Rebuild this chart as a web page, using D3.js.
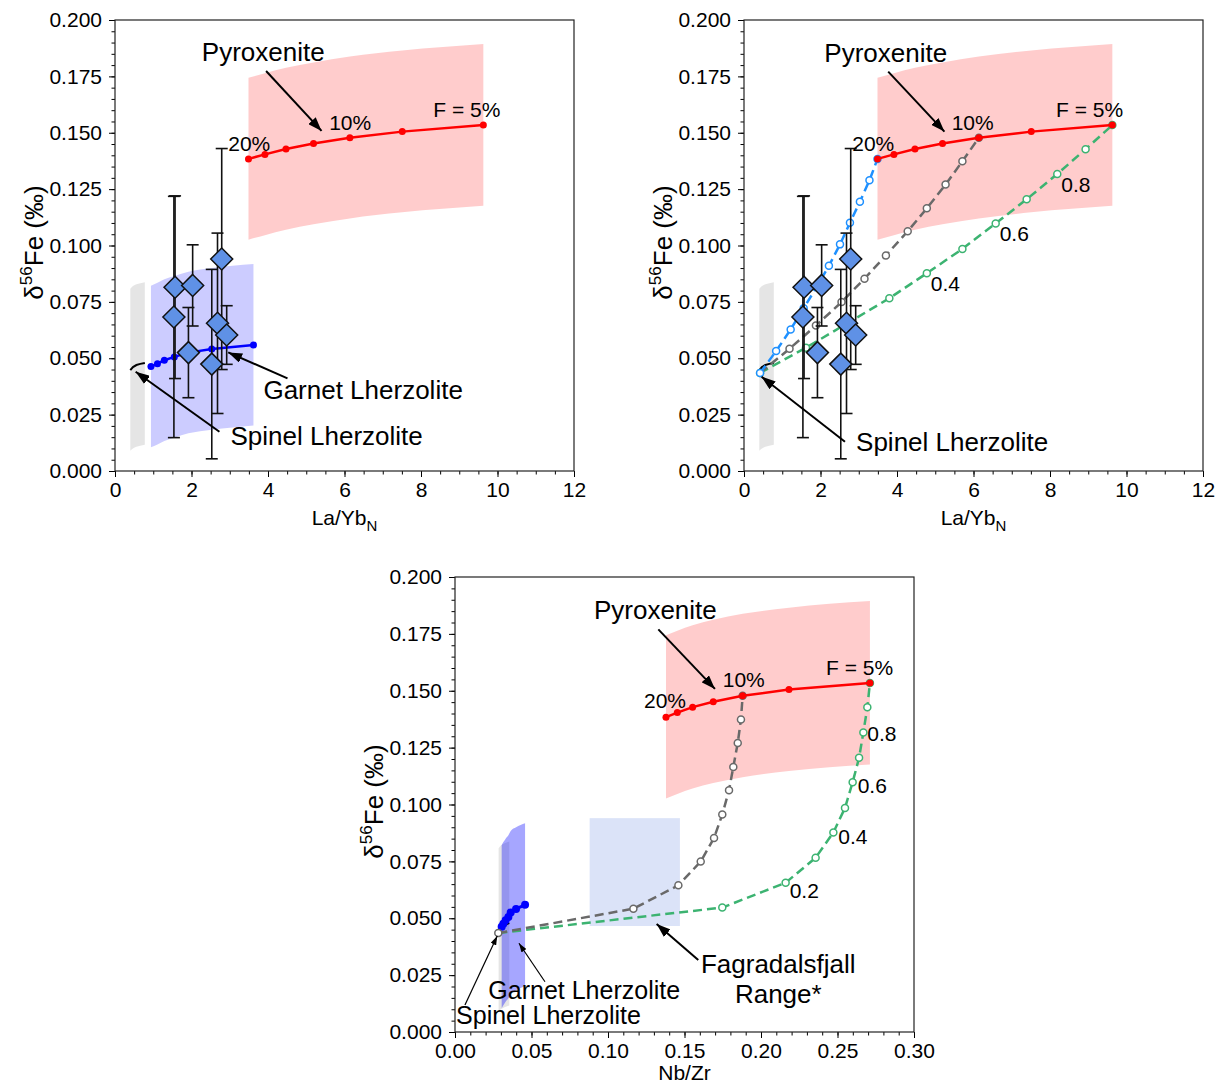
<!DOCTYPE html>
<html>
<head>
<meta charset="utf-8">
<script src="https://cdn.jsdelivr.net/npm/d3@7"></script>
<style>
  body { margin: 0; background: #fff; }
  text { font-family: "Liberation Sans", Arial, sans-serif; fill: #000; }
</style>
</head>
<body>
<svg id="fig" width="1223" height="1089"></svg>
<script>
// ---- melting curves (F = 20% ... 5%) ----
const pyxFe   = [0.1384, 0.1404, 0.1428, 0.1452, 0.1478, 0.1505, 0.1534];
const pyxLaYb = [3.49, 3.92, 4.47, 5.19, 6.14, 7.51, 9.63];
const pyxNbZr = [0.1379, 0.1453, 0.1553, 0.1688, 0.1880, 0.2183, 0.2712];
const pyxHi   = [0.1744, 0.1764, 0.1788, 0.1812, 0.1838, 0.1865, 0.1894];
const pyxLo   = [0.1026, 0.1046, 0.1070, 0.1094, 0.1120, 0.1147, 0.1176];

const grtFe   = [0.0463, 0.0476, 0.0491, 0.0506, 0.0525, 0.0541, 0.0559];
const grtLaYb = [0.94, 1.11, 1.29, 1.55, 1.92, 2.53, 3.62];
const grtNbZr = [0.0305, 0.0316, 0.0331, 0.0349, 0.0364, 0.0399, 0.0458];
const grtHi   = [0.0822, 0.0835, 0.0850, 0.0865, 0.0884, 0.0900, 0.0918];
const grtLo   = [0.0105, 0.0118, 0.0133, 0.0148, 0.0167, 0.0183, 0.0202];

const splFe   = [0.0447, 0.0461, 0.0470, 0.0475, 0.0479];
const splLaYb = [0.40, 0.47, 0.56, 0.66, 0.78];
const splNbZr = [0.0285, 0.0300, 0.0318, 0.0337, 0.0355];
const splHi   = [0.0808, 0.0820, 0.0828, 0.0833, 0.0837];
const splLo   = [0.0090, 0.0100, 0.0107, 0.0112, 0.0116];

// ---- samples ----
const smpLaYb = [1.57, 1.54, 2.03, 1.92, 2.53, 2.68, 2.79, 2.92];
const smpFe   = [0.0815, 0.0683, 0.0823, 0.0525, 0.0474, 0.0655, 0.0940, 0.0603];
const smpErr  = [0.0405, 0.0535, 0.018, 0.020, 0.042, 0.040, 0.049, 0.013];

// ---- mixing lines (spinel lherzolite melt -> pyroxenite melt, steps of 0.1) ----
const mixBlueLaYb  = [0.42, 0.84, 1.22, 1.56, 1.90, 2.22, 2.51, 2.77, 3.03, 3.28, 3.49];
const mixBlueFe    = [0.0435, 0.0532, 0.0628, 0.0722, 0.0816, 0.0910, 0.1005, 0.1101, 0.1194, 0.1289, 0.1384];
const mixGreyLaYb  = [0.42, 1.19, 1.88, 2.55, 3.15, 3.71, 4.28, 4.78, 5.27, 5.71, 6.14];
const mixGreyNbZr  = [0.0283, 0.1166, 0.1460, 0.1606, 0.1693, 0.1747, 0.1791, 0.1819, 0.1848, 0.1869, 0.1880];
const mixGreyFe    = [0.0435, 0.0542, 0.0645, 0.0749, 0.0853, 0.0956, 0.1063, 0.1165, 0.1270, 0.1374, 0.1478];
const mixGreenLaYb = [0.42, 1.62, 2.71, 3.80, 4.78, 5.71, 6.58, 7.39, 8.19, 8.93, 9.63];
const mixGreenNbZr = [0.0283, 0.1747, 0.2161, 0.2357, 0.2473, 0.2549, 0.2599, 0.2641, 0.2669, 0.2695, 0.2712];
const mixGreenFe   = [0.0435, 0.0547, 0.0656, 0.0766, 0.0877, 0.0985, 0.1098, 0.1205, 0.1317, 0.1427, 0.1534];
const mixLabels    = ["0.2", "0.4", "0.6", "0.8"];
const mixLabelIdx  = [2, 4, 6, 8];

// Fagradalsfjall range box
const fagNbZr = [0.088, 0.147];
const fagFe   = [0.0466, 0.094];

const yTicks = [0, 0.025, 0.05, 0.075, 0.1, 0.125, 0.15, 0.175, 0.2];

const svg = d3.select("#fig");
const defs = svg.append("defs");
function marker(id, w, h) {
  defs.append("marker").attr("id", id)
    .attr("viewBox", `0 0 ${w} ${h}`)
    .attr("refX", w).attr("refY", h / 2)
    .attr("markerWidth", w).attr("markerHeight", h)
    .attr("markerUnits", "userSpaceOnUse").attr("orient", "auto")
    .append("path").attr("d", `M0,0L${w},${h / 2}L0,${h}Z`).attr("fill", "#000");
}
marker("head", 14, 10);
marker("headThin", 9, 6);

function makePanel(p) {
  const x = d3.scaleLinear().domain([0, p.xMax]).range([p.left, p.right]);
  const y = d3.scaleLinear().domain([0, 0.2]).range([p.bottom, p.top]);
  const g = svg.append("g");
  const layers = {
    back: g.append("g"),
    mid: g.append("g"),
    front: g.append("g")
  };
  // axes
  const ax = g.append("g");
  const nMinorX = Math.round(p.xMax / p.xMinor);
  ax.append("g").attr("transform", `translate(0,${p.bottom})`)
    .call(d3.axisBottom(x).tickValues(d3.range(nMinorX + 1).map(i => i * p.xMinor))
      .tickSize(3.5).tickSizeOuter(0).tickFormat(""));
  ax.append("g").attr("transform", `translate(${p.left},0)`)
    .call(d3.axisLeft(y).tickValues(d3.range(41).map(i => i * 0.005))
      .tickSize(3.5).tickSizeOuter(0).tickFormat(""));
  const nMajX = Math.round(p.xMax / p.xStep);
  ax.append("g").attr("transform", `translate(0,${p.bottom})`)
    .call(d3.axisBottom(x).tickValues(d3.range(nMajX + 1).map(i => i * p.xStep))
      .tickSize(6).tickPadding(5).tickSizeOuter(0).tickFormat(p.xFmt));
  ax.append("g").attr("transform", `translate(${p.left},0)`)
    .call(d3.axisLeft(y).tickValues(yTicks)
      .tickSize(6).tickPadding(7).tickSizeOuter(0).tickFormat(d3.format(".3f")));
  ax.selectAll(".domain").remove();
  ax.selectAll(".tick line").attr("stroke", "#000");
  ax.selectAll("text").attr("font-family", null).style("font-size", "21px");
  g.append("rect").attr("x", p.left).attr("y", p.top)
    .attr("width", p.right - p.left).attr("height", p.bottom - p.top)
    .attr("fill", "none").attr("stroke", "#222").attr("stroke-width", 1.2);

  // axis labels
  const xl = g.append("text").attr("x", (p.left + p.right) / 2).attr("y", p.bottom + p.xLabelDy)
    .attr("text-anchor", "middle").style("font-size", "21px").text(p.xLabel);
  if (p.xSub) xl.append("tspan").attr("dy", 6).style("font-size", "15px").text(p.xSub);
  const yl = g.append("text")
    .attr("transform", `translate(${p.left - 72},${(p.top + p.bottom) / 2 - 3}) rotate(-90)`)
    .attr("text-anchor", "middle").style("font-size", "26px");
  yl.append("tspan").text("δ");
  yl.append("tspan").attr("dy", -11).style("font-size", "17px").text("56");
  yl.append("tspan").attr("dy", 11).text("Fe (‰)");
  return { x, y, g, layers };
}

function band(layer, x, y, xs, lo, hi, color, op) {
  const area = d3.area().curve(d3.curveMonotoneX)
    .x(d => x(d[0])).y0(d => y(d[1])).y1(d => y(d[2]));
  layer.append("path").datum(xs.map((v, i) => [v, lo[i], hi[i]]))
    .attr("d", area).attr("fill", color).attr("fill-opacity", op);
}

function curve(layer, x, y, xs, ys, color, opt) {
  const pts = xs.map((v, i) => [v, ys[i]]);
  layer.append("path").datum(pts)
    .attr("d", d3.line().x(d => x(d[0])).y(d => y(d[1])))
    .attr("fill", "none").attr("stroke", color)
    .attr("stroke-width", opt.width || 2.5)
    .attr("stroke-dasharray", opt.dash || null);
  if (opt.r) {
    layer.selectAll(null).data(opt.skipFirst ? pts.slice(1) : pts).enter().append("circle")
      .attr("cx", d => x(d[0])).attr("cy", d => y(d[1])).attr("r", opt.r)
      .attr("fill", opt.open ? "#fff" : color)
      .attr("stroke", color).attr("stroke-width", opt.open ? 1.5 : 0);
  }
}

function samples(layer, x, y) {
  const eb = layer.append("g").attr("stroke", "#111").attr("stroke-width", 1.6);
  smpLaYb.forEach((v, i) => {
    const cx = x(v), y1 = y(smpFe[i] + smpErr[i]), y0 = y(smpFe[i] - smpErr[i]);
    eb.append("line").attr("x1", cx).attr("x2", cx).attr("y1", y1).attr("y2", y0);
    eb.append("line").attr("x1", cx - 6).attr("x2", cx + 6).attr("y1", y1).attr("y2", y1);
    eb.append("line").attr("x1", cx - 6).attr("x2", cx + 6).attr("y1", y0).attr("y2", y0);
  });
  const r = 11;
  layer.selectAll(null).data(smpLaYb.map((v, i) => [v, smpFe[i]])).enter().append("path")
    .attr("d", `M0,${-r}L${r},0L0,${r}L${-r},0Z`)
    .attr("transform", d => `translate(${x(d[0])},${y(d[1])})`)
    .attr("fill", "#5f91e6").attr("stroke", "#111").attr("stroke-width", 1.5);
}

function label(layer, x, y, xv, yv, txt, size, anchor) {
  return layer.append("text").attr("x", x(xv)).attr("y", y(yv))
    .attr("text-anchor", anchor || "start").style("font-size", size + "px").text(txt);
}
function arrow(layer, x, y, x1, y1, x2, y2, thin) {
  layer.append("line").attr("x1", x(x1)).attr("y1", y(y1)).attr("x2", x(x2)).attr("y2", y(y2))
    .attr("stroke", "#000").attr("stroke-width", thin ? 1.2 : 2)
    .attr("marker-end", thin ? "url(#headThin)" : "url(#head)");
}

// ================= panel A: La/Yb, garnet & spinel curves =================
{
  const { x, y, layers } = makePanel({ left: 115, right: 574, top: 20, bottom: 471,
    xMax: 12, xStep: 2, xMinor: 0.5, xFmt: d3.format("d"), xLabel: "La/Yb", xSub: "N", xLabelDy: 54 });
  band(layers.back, x, y, pyxLaYb, pyxLo, pyxHi, "#ff0000", 0.2);
  band(layers.back, x, y, splLaYb, splLo, splHi, "#000000", 0.1);
  band(layers.back, x, y, grtLaYb, grtLo, grtHi, "#0000ff", 0.2);
  curve(layers.mid, x, y, pyxLaYb, pyxFe, "#ff0000", { r: 3.5 });
  curve(layers.mid, x, y, grtLaYb, grtFe, "#0000ff", { r: 3.5 });
  curve(layers.mid, x, y, splLaYb, splFe, "#000000", { width: 2 });
  samples(layers.mid, x, y);
  const f = layers.front;
  label(f, x, y, 2.27, 0.1818, "Pyroxenite", 26);
  arrow(f, x, y, 3.95, 0.1774, 5.40, 0.1508);
  label(f, x, y, 2.96, 0.1420, "20%", 21);
  label(f, x, y, 5.60, 0.1512, "10%", 21);
  label(f, x, y, 8.32, 0.1569, "F = 5%", 21);
  label(f, x, y, 3.88, 0.0318, "Garnet Lherzolite", 26);
  arrow(f, x, y, 4.51, 0.0411, 2.96, 0.0526);
  label(f, x, y, 3.02, 0.0115, "Spinel Lherzolite", 26);
  arrow(f, x, y, 2.73, 0.0174, 0.54, 0.0440);
}

// ================= panel B: La/Yb, mixing lines =================
{
  const { x, y, layers } = makePanel({ left: 744, right: 1203, top: 20, bottom: 471,
    xMax: 12, xStep: 2, xMinor: 0.5, xFmt: d3.format("d"), xLabel: "La/Yb", xSub: "N", xLabelDy: 54 });
  band(layers.back, x, y, pyxLaYb, pyxLo, pyxHi, "#ff0000", 0.2);
  band(layers.back, x, y, splLaYb, splLo, splHi, "#000000", 0.1);
  curve(layers.mid, x, y, splLaYb, splFe, "#000000", { width: 2 });
  curve(layers.mid, x, y, mixGreenLaYb, mixGreenFe, "#3cb371", { dash: "9,5", r: 3.5, open: true });
  curve(layers.mid, x, y, mixGreyLaYb, mixGreyFe, "#696969", { dash: "9,5", r: 3.5, open: true, skipFirst: true });
  curve(layers.mid, x, y, mixBlueLaYb, mixBlueFe, "#1e90ff", { dash: "9,5", r: 3.5, open: true });
  curve(layers.mid, x, y, pyxLaYb, pyxFe, "#ff0000", { r: 3.5 });
  samples(layers.mid, x, y);
  const f = layers.front;
  mixLabelIdx.slice(1).forEach((k, i) => {
    f.append("text").attr("x", x(mixGreenLaYb[k]) + 4).attr("y", y(mixGreenFe[k]) + 18)
      .style("font-size", "21px").text(mixLabels[i + 1]);
  });
  label(f, x, y, 2.10, 0.1815, "Pyroxenite", 26);
  arrow(f, x, y, 3.77, 0.1771, 5.24, 0.1505);
  label(f, x, y, 2.83, 0.1420, "20%", 21);
  label(f, x, y, 5.43, 0.1512, "10%", 21);
  label(f, x, y, 8.16, 0.1569, "F = 5%", 21);
  label(f, x, y, 2.93, 0.0089, "Spinel Lherzolite", 26);
  arrow(f, x, y, 2.64, 0.0130, 0.46, 0.0418);
}

// ================= panel C: Nb/Zr =================
{
  const { x, y, layers } = makePanel({ left: 455, right: 914, top: 577, bottom: 1032,
    xMax: 0.30, xStep: 0.05, xMinor: 0.01, xFmt: d3.format(".2f"), xLabel: "Nb/Zr", xLabelDy: 48 });
  band(layers.back, x, y, pyxNbZr, pyxLo, pyxHi, "#ff0000", 0.2);
  layers.back.append("rect")
    .attr("x", x(fagNbZr[0])).attr("y", y(fagFe[1]))
    .attr("width", x(fagNbZr[1]) - x(fagNbZr[0])).attr("height", y(fagFe[0]) - y(fagFe[1]))
    .attr("fill", "#dbe3f8");
  band(layers.back, x, y, splNbZr, splLo, splHi, "#000000", 0.1);
  band(layers.back, x, y, grtNbZr, grtLo, grtHi, "#0000ff", 0.35);
  curve(layers.mid, x, y, splNbZr, splFe, "#000000", { width: 2 });
  curve(layers.mid, x, y, grtNbZr, grtFe, "#0000ff", { r: 4, width: 3 });
  curve(layers.mid, x, y, mixGreenNbZr, mixGreenFe, "#3cb371", { dash: "9,5", r: 3.5, open: true, skipFirst: true });
  curve(layers.mid, x, y, mixGreyNbZr, mixGreyFe, "#696969", { dash: "9,5", r: 3.5, open: true });
  curve(layers.mid, x, y, pyxNbZr, pyxFe, "#ff0000", { r: 3.5 });
  const f = layers.front;
  const off = [[4, 15], [5, 12], [5, 11], [4, 9]];
  mixLabelIdx.forEach((k, i) => {
    f.append("text").attr("x", x(mixGreenNbZr[k]) + off[i][0]).attr("y", y(mixGreenFe[k]) + off[i][1])
      .style("font-size", "21px").text(mixLabels[i]);
  });
  label(f, x, y, 0.0908, 0.1814, "Pyroxenite", 26);
  arrow(f, x, y, 0.1329, 0.1770, 0.1699, 0.1508);
  label(f, x, y, 0.1235, 0.1423, "20%", 21);
  label(f, x, y, 0.1750, 0.1515, "10%", 21);
  label(f, x, y, 0.2425, 0.1569, "F = 5%", 21);
  label(f, x, y, 0.2113, 0.0258, "Fagradalsfjall", 26, "middle");
  label(f, x, y, 0.2113, 0.0126, "Range*", 26, "middle");
  arrow(f, x, y, 0.1590, 0.0316, 0.1318, 0.0475);
  label(f, x, y, 0.0218, 0.0146, "Garnet Lherzolite", 25);
  arrow(f, x, y, 0.0588, 0.0221, 0.0418, 0.0390, true);
  label(f, x, y, 0.0007, 0.0036, "Spinel Lherzolite", 25);
  arrow(f, x, y, 0.0065, 0.0119, 0.0276, 0.0422, true);
}
</script>
</body>
</html>
